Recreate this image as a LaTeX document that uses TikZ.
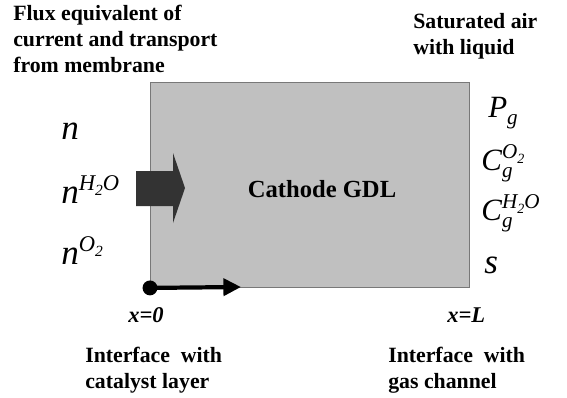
\documentclass[tikz,border=0pt]{standalone}
\usepackage{fontspec}
\setmainfont{Liberation Serif}
\usetikzlibrary{arrows.meta}
\definecolor{gdlgray}{RGB}{192, 192, 192}
\definecolor{gdledge}{RGB}{120, 120, 120}
\definecolor{fluxdark}{RGB}{51, 51, 51}
% italic symbols with raised / lowered scripts
\newcommand{\lowtwo}[1]{\raisebox{-0.25em}{\fontsize{#1}{#1}\selectfont 2}}
\newcommand{\fluxsym}[2]{\textit{#1}\raisebox{9pt}{\fontsize{16}{16}\selectfont\textit{#2}}}
\newcommand{\statesym}[3]{\textit{#1}\rlap{\raisebox{-5.5pt}{\fontsize{15}{15}\selectfont\textit{#2}}}\raisebox{8.5pt}{\fontsize{15}{15}\selectfont\textit{#3}}}

\begin{document}
\begin{tikzpicture}[x=0.025cm, y=-0.025cm,
    note/.style={inner sep=0pt, anchor=north west, align=left, font=\fontsize{15.5}{18.5}\selectfont\bfseries},
    fluxvar/.style={inner sep=0pt, anchor=base west, font=\fontsize{25}{30}\selectfont},
    statevar/.style={inner sep=0pt, anchor=base west, font=\fontsize{22}{26}\selectfont},
    posvar/.style={inner sep=0pt, anchor=base west, font=\fontsize{16}{19}\selectfont\bfseries\itshape}]
  \useasboundingbox (0,0) rectangle (567,397);

  % GDL domain
  \node[draw=gdledge, fill=gdlgray, line width=0.6pt, minimum width=7.975cm, minimum height=5.125cm, inner sep=0pt, anchor=north west] (gdl) at (150,82) {};
  \node[font=\fontsize{17.5}{21}\selectfont\bfseries, anchor=base] (gdlname) at (322,197) {Cathode GDL};

  % flux from membrane
  \fill[fluxdark] (136,171) -- (173,171) -- (173,153) -- (185,188) -- (173,223) -- (173,206) -- (136,206) -- cycle;

  % x axis
  \coordinate (x0) at (gdl.south west);
  \coordinate (xdir) at (241,287);
  \draw[line width=3pt, -{Triangle[length=12.5pt, width=12pt]}] (x0) -- (xdir);
  \fill (x0) circle[radius=5.3pt];

  % top notes
  \node[note] (membrane) at (13,5) {Flux equivalent of\\current and transport\\from membrane};
  \node[note] (air) at (413,13) {Saturated air\\with liquid};

  % flux variables
  \node[fluxvar] (n) at (61,139) {\textit{n}};
  \node[fluxvar] (nw) at (61,203) {\fluxsym{n}{H\lowtwo{11}O}};
  \node[fluxvar] (no) at (61,264) {\fluxsym{n}{O\lowtwo{11}}};

  % boundary state at gas channel
  \node[statevar] (pg) at (488,117) {\statesym{P}{g}{}};
  \node[statevar] (co) at (481,170) {\statesym{C}{g}{O\lowtwo{10}}};
  \node[statevar] (cw) at (481,220) {\statesym{C}{g}{H\lowtwo{10}O}};
  \node[statevar, font=\fontsize{25}{30}\selectfont] (s) at (484,273) {\textit{s}};

  % positions
  \node[posvar] (xzero) at (128,322) {x=0};
  \node[posvar] (xl) at (447,322) {x=L};

  % interfaces
  \node[note] (catalyst) at (85,347) {Interface\ \ with\\catalyst layer};
  \node[note] (channel) at (388,347) {Interface\ \ with\\gas channel};
\end{tikzpicture}
\end{document}
